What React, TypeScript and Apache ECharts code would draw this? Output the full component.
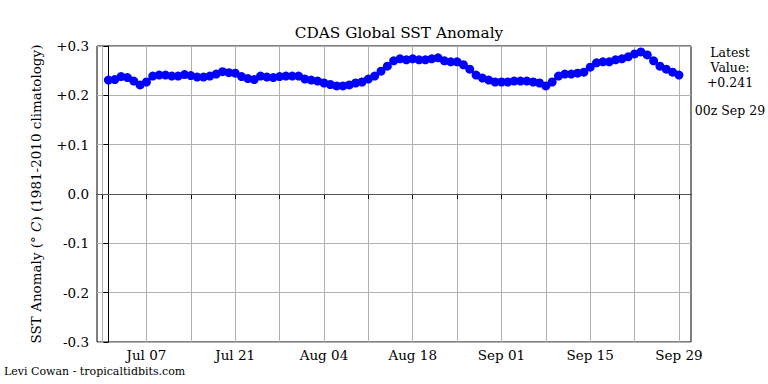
import React, { useEffect, useRef } from "react";
import * as echarts from "echarts";

// Day index 0 = Jul 01; one value per day through Sep 29
const sstAnomaly = [
  0.231, 0.232, 0.238, 0.236, 0.229, 0.221, 0.227, 0.239, 0.241, 0.241,
  0.239, 0.239, 0.242, 0.240, 0.237, 0.237, 0.239, 0.243, 0.248, 0.246,
  0.245, 0.238, 0.234, 0.232, 0.239, 0.237, 0.236, 0.238, 0.239, 0.239,
  0.239, 0.233, 0.231, 0.229, 0.225, 0.222, 0.219, 0.219, 0.221, 0.225,
  0.227, 0.233, 0.239, 0.249, 0.259, 0.270, 0.274, 0.272, 0.274, 0.272,
  0.272, 0.274, 0.276, 0.270, 0.268, 0.268, 0.262, 0.253, 0.241, 0.235,
  0.231, 0.227, 0.227, 0.227, 0.229, 0.229, 0.229, 0.227, 0.225, 0.219,
  0.227, 0.239, 0.243, 0.243, 0.245, 0.247, 0.257, 0.266, 0.268, 0.268,
  0.272, 0.274, 0.278, 0.284, 0.288, 0.282, 0.270, 0.259, 0.253, 0.247,
  0.241,
];
// tick positions (day index) and labels
const majorTickDays = [6, 20, 34, 48, 62, 76, 90];
const majorTickLabels = ["Jul 07", "Jul 21", "Aug 04", "Aug 18", "Sep 01", "Sep 15", "Sep 29"];
const allTickDays = [-1, 6, 13, 20, 27, 34, 41, 48, 55, 62, 69, 76, 83, 90];
const yTicks = [-0.3, -0.2, -0.1, 0, 0.1, 0.2, 0.3];

const titleText = "CDAS Global SST Anomaly";
const yAxisTitle = "SST Anomaly ({i|° C}) (1981-2010 climatology)";
const latestText = "Latest\nValue:\n+0.241";
const latestTime = "00z Sep 29";
const creditText = "Levi Cowan - tropicaltidbits.com";

const FONT = "DejaVu Serif";

export default function App() {
  const ref = useRef<HTMLDivElement>(null);
  useEffect(() => {
    if (!ref.current) return;
    const chart = echarts.init(ref.current, null, { renderer: "svg" });
    const seriesData = sstAnomaly.map((v, i) => [i, v]);
    chart.setOption({
      animation: false,
      backgroundColor: "#ffffff",
      textStyle: { fontFamily: FONT },
      title: {
        text: titleText,
        left: 394,
        top: 20,
        textAlign: "center",
        textStyle: { fontFamily: FONT, fontSize: 15.3, fontWeight: "normal", color: "#000" },
      },
      grid: {
        left: 97,
        right: 77,
        top: 46,
        bottom: 42,
        show: true,
        borderColor: "#000",
        borderWidth: 1,
        backgroundColor: "transparent",
      },
      xAxis: {
        type: "value",
        min: -1.8,
        max: 91.9,
        axisLine: { show: true, lineStyle: { color: "#000", width: 1 } },
        axisTick: {
          show: true,
          inside: false,
          length: 5,
          lineStyle: { color: "#000" },
          customValues: allTickDays,
        },
        axisLabel: {
          customValues: majorTickDays,
          formatter: (v: number) => {
            const idx = majorTickDays.indexOf(Math.round(v));
            return idx >= 0 ? majorTickLabels[idx] : "";
          },
          fontFamily: FONT,
          fontSize: 13.5,
          color: "#000",
          margin: 6,
        },
        splitLine: { show: true, lineStyle: { color: "#b0b0b0", width: 1 } },
      },
      yAxis: {
        type: "value",
        min: -0.3,
        max: 0.3,
        interval: 0.1,
        name: yAxisTitle,
        nameLocation: "middle",
        nameRotate: 90,
        nameGap: 54,
        nameTextStyle: {
          fontFamily: FONT,
          fontSize: 13.5,
          color: "#000",
          rich: { i: { fontFamily: FONT, fontSize: 13.5, fontStyle: "italic", color: "#000" } },
        },
        axisLine: { show: true, lineStyle: { color: "#000", width: 1 } },
        axisTick: { show: true, inside: false, length: 5, lineStyle: { color: "#000" }, customValues: yTicks },
        axisLabel: {
          customValues: yTicks,
          formatter: (v: number) => {
            const r = Math.round(v * 10) / 10;
            if (Math.abs(r) < 1e-9) return "0.0";
            return (r > 0 ? "+" : "") + r.toFixed(1);
          },
          fontFamily: FONT,
          fontSize: 13.5,
          color: "#000",
          margin: 8,
        },
        splitLine: { show: true, lineStyle: { color: "#b0b0b0", width: 1 } },
      },
      series: [
        {
          type: "line",
          data: seriesData,
          symbol: "circle",
          symbolSize: 9,
          showSymbol: true,
          lineStyle: { color: "#0000ff", width: 2 },
          itemStyle: { color: "#0000ff" },
          markLine: {
            silent: true,
            symbol: "none",
            label: { show: false },
            lineStyle: { color: "#555", width: 1, type: "solid" },
            data: [{ yAxis: 0 }],
          },
          z: 5,
        },
      ],
      graphic: [
        {
          type: "text",
          x: 730,
          y: 45,
          style: {
            text: latestText,
            fontFamily: FONT,
            fontSize: 12.5,
            lineHeight: 15,
            align: "center",
            verticalAlign: "top",
            fill: "#000",
          },
        },
        {
          type: "text",
          x: 730,
          y: 104,
          style: {
            text: latestTime,
            fontFamily: FONT,
            fontSize: 12.5,
            align: "center",
            verticalAlign: "top",
            fill: "#000",
          },
        },
        {
          type: "text",
          x: 4,
          y: 366,
          style: { text: creditText, fontFamily: FONT, fontSize: 11, verticalAlign: "top", fill: "#000" },
        },
      ],
    });
    return () => chart.dispose();
  }, []);
  return <div ref={ref} style={{ width: 768, height: 384, position: "absolute", left: 0, top: 0 }} />;
}
